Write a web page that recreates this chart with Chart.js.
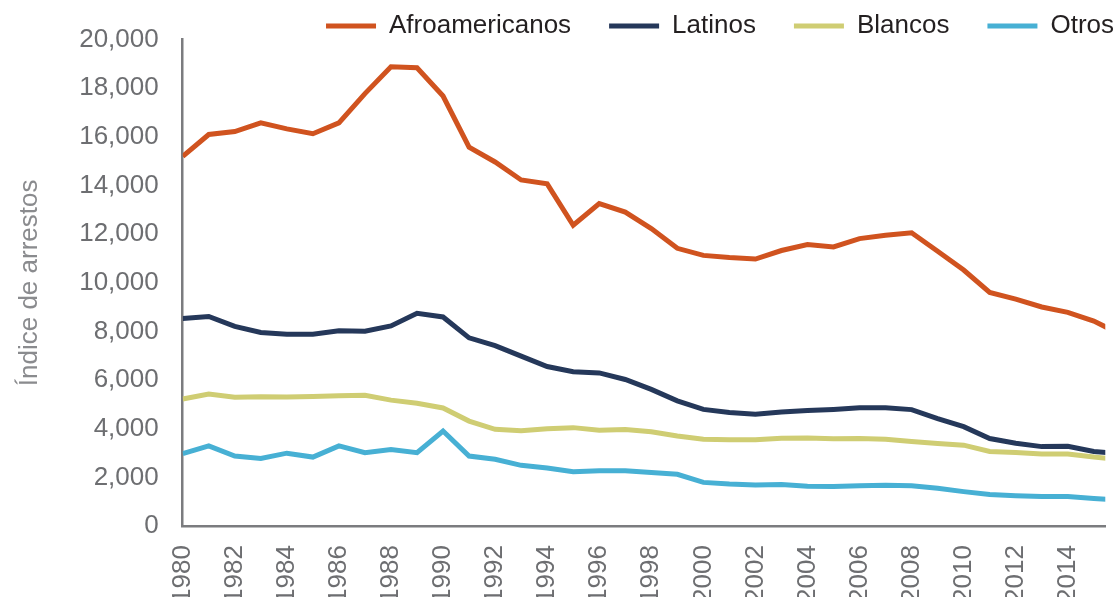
<!DOCTYPE html>
<html>
<head>
<meta charset="utf-8">
<script src="https://cdn.jsdelivr.net/npm/chart.js@4"></script>
<style>
  body { margin: 0; background: #fff; overflow: hidden; }
  #wrap { position: relative; width: 1118px; height: 597px; }
</style>
</head>
<body>
<div id="wrap"><canvas id="arrestChart"></canvas></div>
<script>
// years of the series (last one runs past the right edge and is clipped)
const years = [
  1980, 1981, 1982, 1983, 1984, 1985, 1986, 1987, 1988, 1989,
  1990, 1991, 1992, 1993, 1994, 1995, 1996, 1997, 1998, 1999,
  2000, 2001, 2002, 2003, 2004, 2005, 2006, 2007, 2008, 2009,
  2010, 2011, 2012, 2013, 2014, 2015, 2016
];

const afroamericanos = [
  15200, 16100, 16220, 16580, 16330, 16130, 16580, 17780, 18880, 18840,
  17680, 15580, 14970, 14230, 14070, 12370, 13260, 12910, 12230, 11420,
  11130, 11040, 10980, 11330, 11580, 11480, 11820, 11960, 12060, 11300,
  10530, 9610, 9330, 9010, 8790, 8430, 7900
];

const latinos = [
  8540, 8620, 8210, 7960, 7890, 7890, 8030, 8010, 8230, 8750,
  8600, 7740, 7420, 6990, 6560, 6350, 6300, 6030, 5620, 5150,
  4800, 4670, 4600, 4690, 4750, 4800, 4870, 4870, 4790, 4420,
  4090, 3600, 3410, 3270, 3280, 3070, 2980
];

const blancos = [
  5230, 5430, 5300, 5320, 5310, 5330, 5360, 5380, 5180, 5050,
  4860, 4320, 3980, 3920, 4000, 4050, 3940, 3970, 3880, 3710,
  3570, 3550, 3550, 3610, 3620, 3590, 3600, 3570, 3480, 3400,
  3330, 3070, 3030, 2970, 2970, 2840, 2740
];

const otros = [
  2980, 3300, 2880, 2780, 3000, 2840, 3300, 3020, 3150, 3020,
  3910, 2880, 2750, 2500, 2390, 2240, 2280, 2280, 2210, 2130,
  1800, 1730, 1690, 1710, 1640, 1630, 1660, 1680, 1660, 1560,
  1420, 1300, 1250, 1220, 1220, 1140, 1070
];

const seriesNames = ["Afroamericanos", "Latinos", "Blancos", "Otros"];
const seriesColors = ["#d0531f", "#25385a", "#cfcd73", "#47b0d4"];

const yTicks = { min: 0, max: 20000, step: 2000 };
const xRange = { min: 1980, max: 2015.44, step: 2 };

const tickFont = { family: "'Liberation Sans', Arial, sans-serif", size: 26 };

const toPoints = (values) => values.map((v, i) => ({ x: years[i], y: v }));

// push the legend up/right so its item spacing can stay wide
const legendPlacement = {
  id: "legendPlacement",
  beforeInit(chart) {
    const origFit = chart.legend.fit;
    chart.legend.fit = function () {
      origFit.call(this);
      this.height = 32;
    };
  },
  afterLayout(chart) {
    const lg = chart.legend;
    lg.top = -25;
    lg.right = 1152;
  },
};

new Chart(document.getElementById("arrestChart"), {
  type: "line",
  data: {
    datasets: [afroamericanos, latinos, blancos, otros].map((values, i) => ({
      label: seriesNames[i],
      data: toPoints(values),
      borderColor: seriesColors[i],
      backgroundColor: seriesColors[i],
      borderWidth: 5,
      pointRadius: 0,
      tension: 0,
    })),
  },
  options: {
    responsive: true,
    maintainAspectRatio: false,
    animation: false,
    layout: { padding: { left: 0, right: 0, top: 0, bottom: -25 } },
    plugins: {
      legend: {
        position: "top",
        align: "end",
        labels: {
          boxWidth: 50,
          boxHeight: 5,
          padding: 38,
          color: "#231f20",
          font: { family: "'Liberation Sans', Arial, sans-serif", size: 26 },
          generateLabels(chart) {
            const items = Chart.defaults.plugins.legend.labels.generateLabels(chart);
            items.forEach((it) => { it.lineWidth = 0; });
            return items;
          },
        },
      },
      tooltip: { enabled: false },
    },
    scales: {
      x: {
        type: "linear",
        min: xRange.min,
        max: xRange.max,
        grid: { display: false, drawTicks: false },
        border: { display: true, color: "#7b7c7f", width: 2.5 },
        ticks: {
          stepSize: xRange.step,
          includeBounds: false,
          autoSkip: false,
          minRotation: 90,
          maxRotation: 90,
          padding: 19,
          color: "#6d6e71",
          font: tickFont,
          callback: (v) => String(v),
        },
      },
      y: {
        min: yTicks.min,
        max: yTicks.max,
        grid: { display: false, drawTicks: false },
        border: { display: true, color: "#7b7c7f", width: 2.5 },
        ticks: {
          stepSize: yTicks.step,
          padding: 24,
          color: "#6d6e71",
          font: tickFont,
        },
        title: {
          display: true,
          text: "Índice de arrestos",
          color: "#8a8b8e",
          font: { family: "'Liberation Sans', Arial, sans-serif", size: 26 },
          padding: { top: 14, bottom: 10 },
        },
      },
    },
  },
  plugins: [legendPlacement],
});
</script>
</body>
</html>
